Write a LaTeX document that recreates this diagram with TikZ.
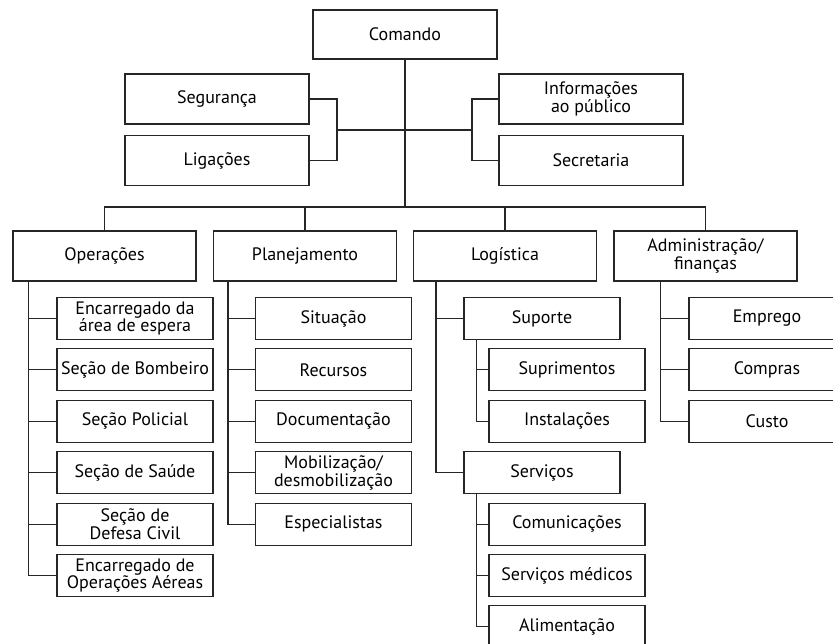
\documentclass[tikz,border=0pt]{standalone}
\usepackage{fontspec}
\setmainfont{PT Sans}
\begin{document}
\begin{tikzpicture}[x=1pt,y=-1pt,
    caixa/.style={draw=black!85, line width=1.1pt, minimum width=184pt, minimum height=50pt,
      inner sep=0pt, align=center, font=\fontsize{18}{17.5}\selectfont},
    sub/.style={caixa, minimum width=156pt, minimum height=42pt},
    liga/.style={draw=black!85, line width=1.1pt}]
    \useasboundingbox (0,0) rectangle (833,643);

    % Comando and staff
    \node[caixa, minimum height=49pt] (com) at (405,34.5) {Comando};
    \node[caixa] (seg) at (217,99) {Segurança};
    \node[caixa] (lig) at (217,160.5) {Ligações};
    \node[caixa] (inf) at (591,99) {Informações\\ao público};
    \node[caixa] (sec) at (591,160.5) {Secretaria};

    % Main sections
    \node[caixa, minimum width=183pt] (ope) at (104.5,256) {Operações};
    \node[caixa, minimum width=183pt] (pla) at (305,256) {Planejamento};
    \node[caixa, minimum width=183pt] (log) at (505,256) {Logística};
    \node[caixa, minimum width=183pt] (adm) at (705.5,256) {Administração/\\finanças};

    % Operations units
    \foreach \txt [count=\i from 0] in {{Encarregado da\\área de espera}, Seção de Bombeiro,
        Seção Policial, Seção de Saúde, {Seção de\\Defesa Civil}, {Encarregado de\\Operações Aéreas}}
      \node[sub] (o\i) at (135,318.5+51.4*\i) {\txt};

    % Planning units
    \foreach \txt [count=\i from 0] in {Situação, Recursos, Documentação,
        {Mobilização/\\desmobilização}, Especialistas}
      \node[sub] (p\i) at (333.5,318.5+51.4*\i) {\txt};

    % Logistics units
    \node[sub] (sup) at (542,318.5) {Suporte};
    \node[sub] (supr) at (567,369.9) {Suprimentos};
    \node[sub] (inst) at (567,421.3) {Instalações};
    \node[sub] (ser) at (542,472.7) {Serviços};
    \node[sub] (comu) at (567,524.1) {Comunicações};
    \node[sub] (med) at (567,575.5) {Serviços médicos};
    \node[sub] (ali) at (567,626.9) {Alimentação};

    % Administration units
    \foreach \txt [count=\i from 0] in {Emprego, Compras, Custo}
      \node[sub] (a\i) at (767,318.5+51.4*\i) {\txt};

    % Staff brackets
    \coordinate (esq) at (337,130);
    \coordinate (dir) at (472,130);
    \draw[liga] (seg.east) -| (esq) |- (lig.east);
    \draw[liga] (inf.west) -| (dir) |- (sec.west);
    \draw[liga] (esq) -- (dir);

    % Bus to sections
    \coordinate (bus) at (405,207);
    \draw[liga] (com.south) -- (bus);
    \draw[liga] (ope.north) |- (bus) -| (adm.north);
    \draw[liga] (pla.north) -- (pla.north |- bus);
    \draw[liga] (log.north) -- (log.north |- bus);

    % Branches to units
    \coordinate (ov) at ([xshift=16pt]ope.south west);
    \foreach \i in {0,...,5} \draw[liga] (ov) |- (o\i.west);
    \coordinate (pv) at ([xshift=15pt]pla.south west);
    \foreach \i in {0,...,4} \draw[liga] (pv) |- (p\i.west);
    \coordinate (lv) at ([xshift=23pt]log.south west);
    \draw[liga] (lv) |- (sup.west);
    \draw[liga] (lv) |- (ser.west);
    \coordinate (sv) at ([xshift=13pt]sup.south west);
    \draw[liga] (sv) |- (supr.west);
    \draw[liga] (sv) |- (inst.west);
    \coordinate (rv) at ([xshift=13pt]ser.south west);
    \foreach \n in {comu, med, ali} \draw[liga] (rv) |- (\n.west);
    \coordinate (av) at ([xshift=47pt]adm.south west);
    \foreach \i in {0,...,2} \draw[liga] (av) |- (a\i.west);
\end{tikzpicture}
\end{document}
